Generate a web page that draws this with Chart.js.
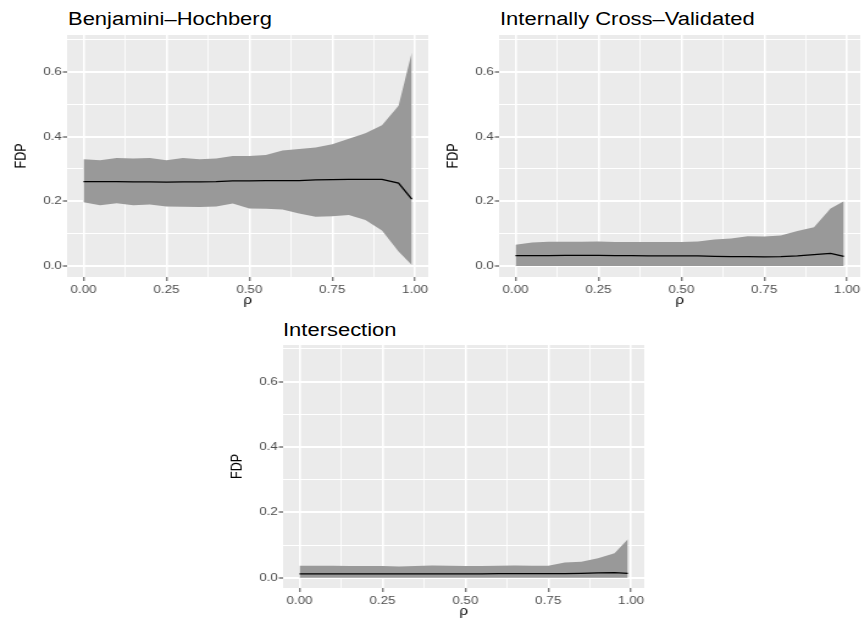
<!DOCTYPE html>
<html>
<head>
<meta charset="utf-8">
<script src="https://cdn.jsdelivr.net/npm/chart.js@4.4.0/dist/chart.umd.min.js"></script>
<style>
  body { margin: 0; background: #fff; width: 862px; height: 621px; overflow: hidden; position: relative; }
  .panel { position: absolute; transform: scaleX(1.22); transform-origin: 0 0; }
  .title { position: absolute; font-family: "Liberation Sans", Arial, sans-serif; font-size: 18px; line-height: 18px;
           color: #000; white-space: nowrap; transform: scaleX(1.22); transform-origin: 0 0; }
</style>
</head>
<body>
<div class="title" style="left:68px; top:10px;">Benjamini–Hochberg</div>
<div class="title" style="left:500px; top:10px;">Internally Cross–Validated</div>
<div class="title" style="left:283px; top:321px;">Intersection</div>

<div class="panel" style="left:0px; top:0px;"><canvas id="bh" width="355" height="309"></canvas></div>
<div class="panel" style="left:432px; top:0px;"><canvas id="icv" width="355" height="309"></canvas></div>
<div class="panel" style="left:216px; top:310px;"><canvas id="inter" width="355" height="310"></canvas></div>

<script>
var rho = [0, 0.05, 0.1, 0.15, 0.2, 0.25, 0.3, 0.35, 0.4, 0.45, 0.5, 0.55, 0.6, 0.65, 0.7, 0.75, 0.8, 0.85, 0.9, 0.95, 0.99];

var bhUpper  = [0.330, 0.327, 0.334, 0.332, 0.334, 0.327, 0.334, 0.330, 0.332, 0.340, 0.340, 0.343, 0.357, 0.362, 0.366, 0.376, 0.393, 0.410, 0.435, 0.495, 0.660];
var bhLower  = [0.197, 0.188, 0.194, 0.188, 0.190, 0.184, 0.183, 0.182, 0.184, 0.193, 0.178, 0.177, 0.175, 0.162, 0.152, 0.154, 0.158, 0.142, 0.110, 0.045, 0.003];
var bhMedian = [0.261, 0.261, 0.261, 0.260, 0.260, 0.259, 0.260, 0.260, 0.261, 0.263, 0.263, 0.264, 0.264, 0.264, 0.266, 0.267, 0.268, 0.268, 0.268, 0.256, 0.207];

var icvUpper  = [0.066, 0.073, 0.075, 0.075, 0.075, 0.076, 0.074, 0.074, 0.074, 0.074, 0.074, 0.076, 0.082, 0.085, 0.092, 0.091, 0.094, 0.108, 0.120, 0.178, 0.200];
var icvLower  = [0, 0, 0, 0, 0, 0, 0, 0, 0, 0, 0, 0, 0, 0, 0, 0, 0, 0, 0, 0, 0];
var icvMedian = [0.032, 0.032, 0.032, 0.033, 0.033, 0.033, 0.032, 0.032, 0.031, 0.031, 0.031, 0.031, 0.030, 0.029, 0.029, 0.028, 0.029, 0.031, 0.035, 0.039, 0.030];

var intUpper  = [0.037, 0.037, 0.037, 0.036, 0.036, 0.036, 0.035, 0.036, 0.038, 0.037, 0.036, 0.036, 0.037, 0.038, 0.037, 0.037, 0.047, 0.049, 0.060, 0.075, 0.118];
var intLower  = [0, 0, 0, 0, 0, 0, 0, 0, 0, 0, 0, 0, 0, 0, 0, 0, 0, 0, 0, 0, 0];
var intMedian = [0.012, 0.012, 0.012, 0.012, 0.012, 0.012, 0.012, 0.012, 0.012, 0.012, 0.012, 0.012, 0.013, 0.013, 0.013, 0.013, 0.013, 0.014, 0.015, 0.016, 0.014];

var xTicks = [0, 0.125, 0.25, 0.375, 0.5, 0.625, 0.75, 0.875, 1];
var xMajor = [0, 0.25, 0.5, 0.75, 1];
var yTicks = [0, 0.1, 0.2, 0.3, 0.4, 0.5, 0.6, 0.7];
var yMajor = [0, 0.2, 0.4, 0.6];

var FONT = '"Liberation Sans", Arial, sans-serif';

function isMajor(list, v) {
    return list.some(function(m) { return Math.abs(m - v) < 1e-9; });
}

function pts(ys) {
    return rho.map(function(x, i) { return { x: x, y: ys[i] }; });
}

var panelBg = {
    id: 'panelBg',
    beforeDraw: function(chart) {
        var a = chart.chartArea;
        var c = chart.ctx;
        c.save();
        c.fillStyle = '#EBEBEB';
        c.fillRect(a.left, a.top, a.right - a.left, a.bottom - a.top);
        c.restore();
    }
};

function makeChart(id, upper, lower, median, yMin, yMax) {
    var ctx = document.getElementById(id).getContext('2d');
    return new Chart(ctx, {
        type: 'line',
        data: {
            datasets: [{
                data: pts(median),
                borderColor: '#000000',
                borderWidth: 1.3,
                pointRadius: 0,
                fill: false
            }, {
                data: pts(upper),
                borderWidth: 0,
                borderColor: 'rgba(0,0,0,0)',
                backgroundColor: '#999999',
                pointRadius: 0,
                fill: '+1'
            }, {
                data: pts(lower),
                borderWidth: 0,
                borderColor: 'rgba(0,0,0,0)',
                pointRadius: 0,
                fill: false
            }]
        },
        options: {
            responsive: false,
            animation: false,
            layout: { padding: { top: 35, right: 4, left: 0, bottom: 0 } },
            elements: { line: { tension: 0 } },
            plugins: {
                legend: { display: false },
                tooltip: { enabled: false }
            },
            scales: {
                x: {
                    type: 'linear',
                    min: -0.0495,
                    max: 1.0395,
                    afterBuildTicks: function(scale) {
                        scale.ticks = xTicks.map(function(v) { return { value: v }; });
                    },
                    afterFit: function(scale) { scale.height = 32; },
                    border: { display: false },
                    grid: {
                        color: '#FFFFFF',
                        lineWidth: function(c) { return c.tick && isMajor(xMajor, c.tick.value) ? 1.6 : 0.8; },
                        tickColor: function(c) { return c.tick && isMajor(xMajor, c.tick.value) ? '#333333' : 'rgba(0,0,0,0)'; },
                        tickWidth: 0.9,
                        tickLength: 4
                    },
                    ticks: {
                        autoSkip: false,
                        maxRotation: 0,
                        padding: 2.5,
                        color: '#4D4D4D',
                        font: { family: FONT, size: 11 },
                        callback: function(v) { return isMajor(xMajor, v) ? v.toFixed(2) : ''; }
                    },
                    title: {
                        display: true,
                        text: 'ρ',
                        color: '#000000',
                        font: { family: FONT, size: 12.5 },
                        padding: { top: 0, bottom: 1.3 }
                    }
                },
                y: {
                    type: 'linear',
                    min: yMin,
                    max: yMax,
                    afterBuildTicks: function(scale) {
                        scale.ticks = yTicks.map(function(v) { return { value: v }; });
                    },
                    afterFit: function(scale) { scale.width = 55; },
                    border: { display: false },
                    grid: {
                        color: '#FFFFFF',
                        lineWidth: function(c) { return c.tick && isMajor(yMajor, c.tick.value) ? 2 : 1; },
                        tickColor: function(c) { return c.tick && isMajor(yMajor, c.tick.value) ? '#333333' : 'rgba(0,0,0,0)'; },
                        tickWidth: 1,
                        tickLength: 3.5
                    },
                    ticks: {
                        autoSkip: false,
                        padding: 0.8,
                        color: '#4D4D4D',
                        font: { family: FONT, size: 11 },
                        callback: function(v) { return isMajor(yMajor, v) ? v.toFixed(1) : ''; }
                    },
                    title: {
                        display: true,
                        text: 'FDP',
                        color: '#000000',
                        font: { family: FONT, size: 12.5 },
                        padding: { top: 10, bottom: 0 }
                    }
                }
            }
        },
        plugins: [panelBg]
    });
}

makeChart('bh', bhUpper, bhLower, bhMedian, -0.034, 0.714);
makeChart('icv', icvUpper, icvLower, icvMedian, -0.034, 0.714);
makeChart('inter', intUpper, intLower, intMedian, -0.031, 0.712);
</script>
</body>
</html>
